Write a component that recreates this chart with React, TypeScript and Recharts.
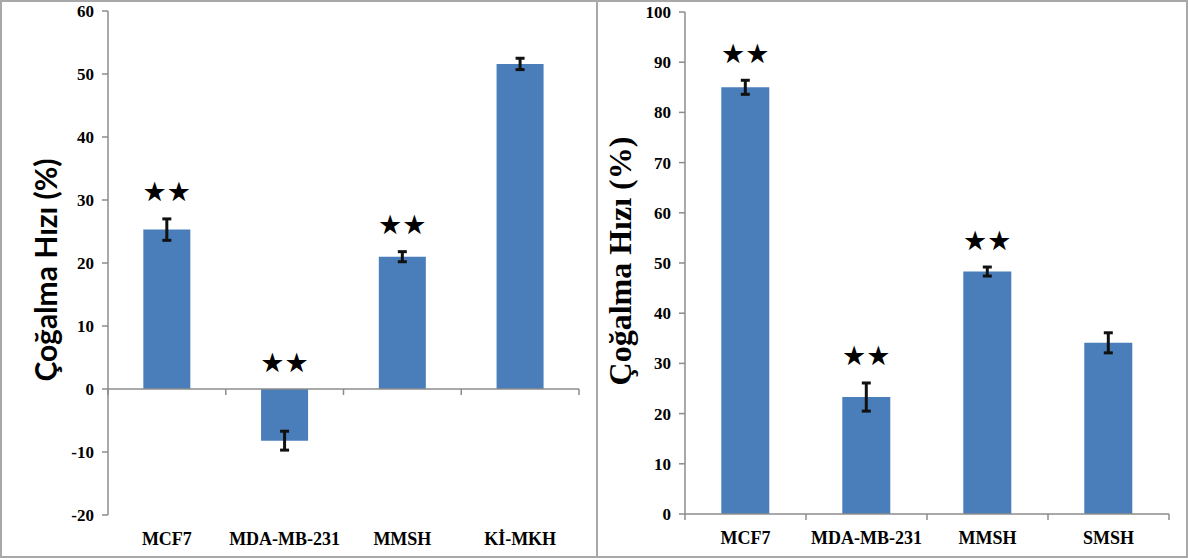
import React from 'react';
import { BarChart, Bar, XAxis, YAxis, ErrorBar, LabelList, ReferenceLine } from 'recharts';

// left panel
const leftCategories = ['MCF7', 'MDA-MB-231', 'MMSH', 'Kİ-MKH'];
const leftValues = [25.3, -8.2, 21.0, 51.6];
const leftErrors = [1.7, 1.5, 0.8, 0.9];
const leftSig = ['★★', '★★', '★★', ''];
const leftTicks = [-20, -10, 0, 10, 20, 30, 40, 50, 60];

// right panel
const rightCategories = ['MCF7', 'MDA-MB-231', 'MMSH', 'SMSH'];
const rightValues = [85.0, 23.3, 48.3, 34.1];
const rightErrors = [1.4, 2.8, 0.9, 2.0];
const rightSig = ['★★', '★★', '★★', ''];
const rightTicks = [0, 10, 20, 30, 40, 50, 60, 70, 80, 90, 100];

const yLabel = 'Çoğalma Hızı (%)';

const BLUE = '#4a7ebb';
const AXIS = '#8c8c8c';
const SERIF = "'Liberation Serif', 'Times New Roman', Times, serif";

const build = (cats, vals, errs, sig) =>
    cats.map((name, i) => ({ name, value: vals[i], err: errs[i], sig: sig[i] }));

const leftData = build(leftCategories, leftValues, leftErrors, leftSig);
const rightData = build(rightCategories, rightValues, rightErrors, rightSig);

// stars sit a bit above the error bar (or the zero line for negative bars)
const makeStars = (data) => (props) => {
    const { index, value } = props;
    if (!value) return null;
    const vb = props.viewBox || props;
    const x = vb.x ?? props.x;
    const y = vb.y ?? props.y;
    const w = vb.width ?? props.width;
    const h = vb.height ?? props.height;
    const d = data[index];
    const top = Math.min(y, y + h);
    let errTop = top;
    if (d.value > 0) {
        const ppu = Math.abs(h) / Math.abs(d.value);
        errTop = top - d.err * ppu;
    }
    return (
        <text
            x={x + w / 2}
            y={errTop - 27}
            textAnchor="middle"
            dominantBaseline="central"
            fontSize={27}
            fontFamily="DejaVu Sans"
            fill="#000"
        >
            {value}
        </text>
    );
};

// zero line with excel-style tick marks at category boundaries
const zeroLine = (n) => (props) => {
    const { x1, x2, y1 } = props;
    const step = (x2 - x1) / n;
    const marks = [];
    for (let i = 0; i <= n; i++) {
        marks.push(<line key={i} x1={x1 + i * step} x2={x1 + i * step} y1={y1} y2={y1 + 6} stroke={AXIS} strokeWidth={1.5} />);
    }
    return (
        <g>
            <line x1={x1} x2={x2} y1={y1} y2={y1} stroke={AXIS} strokeWidth={1.5} />
            {marks}
        </g>
    );
};

const tickFont = (size) => ({
    fontFamily: SERIF,
    fontWeight: 'bold',
    fontSize: size,
    fill: '#000',
});

const Panel = ({ data, ticks, domain, width, margin, label }) => (
    <BarChart width={width} height={558} data={data} margin={margin} barCategoryGap="30%">
        <XAxis
            dataKey="name"
            axisLine={false}
            tickLine={false}
            height={30}
            tickMargin={11}
            interval={0}
            tick={tickFont(18)}
        />
        <YAxis
            type="number"
            domain={domain}
            ticks={ticks}
            interval={0}
            width={60}
            tickSize={6}
            tickMargin={8}
            axisLine={{ stroke: AXIS, strokeWidth: 1.5 }}
            tickLine={{ stroke: AXIS, strokeWidth: 1.5 }}
            tick={tickFont(17)}
            label={{ content: () => label }}
        />
        <ReferenceLine y={0} shape={zeroLine(data.length)} ifOverflow="extendDomain" />
        <Bar dataKey="value" fill={BLUE} isAnimationActive={false}>
            <ErrorBar dataKey="err" width={4.5} strokeWidth={3} stroke="#111" direction="y" />
            <LabelList dataKey="sig" content={makeStars(data)} />
        </Bar>
    </BarChart>
);

export default function App() {
    return (
        <div style={{ position: 'absolute', left: 0, top: 0, width: 1188, height: 558, background: '#fff' }}>
            <div style={{ position: 'absolute', left: 0, top: 0, width: 1188, height: 558, boxSizing: 'border-box', border: '2px solid #a8a8a8' }} />
            <div style={{ position: 'absolute', left: 596, top: 0, width: 2, height: 558, background: '#a8a8a8' }} />
            <div style={{ position: 'absolute', left: 0, top: 0 }}>
                <Panel
                    data={leftData}
                    ticks={leftTicks}
                    domain={[-20, 60]}
                    width={597}
                    margin={{ top: 11, right: 18, bottom: 13, left: 48 }}
                    label={
                        <text
                            transform="translate(57,270) rotate(-90)"
                            textAnchor="middle"
                            fontFamily="Lato, sans-serif"
                            fontWeight="bold"
                            fontSize={30}
                            fill="#000"
                        >
                            {yLabel}
                        </text>
                    }
                />
            </div>
            <div style={{ position: 'absolute', left: 597, top: 0 }}>
                <Panel
                    data={rightData}
                    ticks={rightTicks}
                    domain={[0, 100]}
                    width={591}
                    margin={{ top: 12, right: 19, bottom: 14, left: 28 }}
                    label={
                        <text
                            transform="translate(34,261) rotate(-90)"
                            textAnchor="middle"
                            fontFamily={SERIF}
                            fontWeight="bold"
                            fontSize={32}
                            fill="#000"
                        >
                            {yLabel}
                        </text>
                    }
                />
            </div>
        </div>
    );
}
